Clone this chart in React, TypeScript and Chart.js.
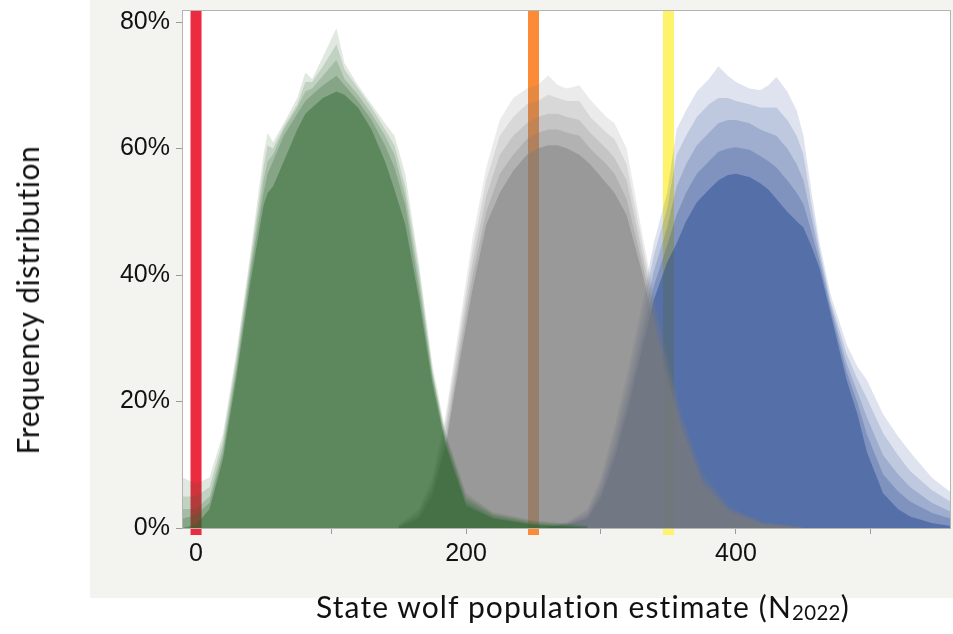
import React, { useEffect, useRef } from 'react';
import { Chart, registerables } from 'chart.js';

Chart.register(...registerables);

// ---- axis ticks ----
const xTickValues = [0, 100, 200, 300, 400, 500];
const xTickLabels = ['0', '', '200', '', '400', ''];
const yTickValues = [0, 20, 40, 60, 80];
const yTickLabels = ['0%', '20%', '40%', '60%', '80%'];

// ---- threshold lines (N) ----
const thresholdValues = [0, 250, 350];

// ---- green distribution (frequency %, layered simulations) ----
const greenN = [-10, 0, 10, 20, 30, 40, 50, 53, 57, 65, 75, 81, 86, 94, 104, 110, 120, 130, 140, 147, 155, 165, 175, 185, 200, 220, 250, 290];
const greenL1 = [8, 7, 8, 15, 28, 43, 59, 62.5, 61, 64, 68, 72, 71, 74.5, 79, 73.5, 70, 67, 64, 62, 56, 42, 26, 15, 5.5, 2.5, 1.2, 0.4];
const greenL2 = [5, 5, 6.5, 14, 27, 42, 57, 60.5, 60, 63.5, 67, 70.5, 70.5, 73, 76.5, 72.5, 69.5, 66.5, 63, 60.5, 54, 41, 25, 14.5, 5, 2.2, 1, 0.3];
const greenL3 = [3, 3, 5, 13, 26, 41, 55, 58, 59, 63, 66.5, 69, 69.5, 71.5, 74, 71, 68.5, 65.5, 62, 59, 52.5, 39.5, 24.5, 14, 4.5, 2, 0.8, 0.2];
const greenL4 = [1.5, 2, 4, 12, 25, 40, 53, 56, 58, 62, 65.5, 67.5, 68.5, 70, 71.5, 70, 67.5, 64.5, 60.5, 57, 51, 38, 24, 13.5, 4, 1.7, 0.6, 0];
const greenL5 = [0, 0.5, 3, 11, 24, 38.5, 51, 53, 54, 58, 63, 65.5, 66.5, 68, 69, 68.5, 66.5, 63, 58, 53.5, 48, 36.5, 23, 13, 3.5, 1.5, 0.5, 0];

// ---- gray distribution ----
const grayN = [150, 165, 175, 185, 195, 205, 215, 225, 235, 245, 253, 261, 268, 275, 284, 292, 304, 310, 319, 331, 340, 350, 360, 375, 395, 420, 450];
const grayL1 = [0.5, 3, 8, 18, 32, 46, 57, 64.5, 68, 69.5, 70, 71.6, 70, 69.5, 70, 67.7, 65, 64, 60, 46, 36, 27, 18, 9, 3.5, 1, 0.2];
const grayL2 = [0.4, 2.6, 7.2, 17, 30.5, 44, 55, 62, 65, 67, 67.5, 68.5, 68, 67.5, 67.5, 65, 62.5, 61.5, 57.5, 44.5, 35, 26, 17.5, 8.5, 3.2, 0.9, 0.2];
const grayL3 = [0.3, 2.2, 6.5, 15.5, 29, 42, 52.5, 59, 62, 64, 65, 65.5, 65.5, 65, 64.5, 62.5, 60, 58.5, 55, 43, 34, 25, 17, 8, 3, 0.8, 0.1];
const grayL4 = [0.2, 1.8, 5.8, 14, 27.5, 40, 50, 56, 59, 61.5, 62.5, 63, 63, 62.5, 62, 60, 57.5, 56, 52, 41.5, 33, 24, 16, 7.5, 2.8, 0.7, 0];
const grayL5 = [0, 1.5, 5, 13, 26, 38, 48, 53, 56.5, 59, 60, 60.5, 60.5, 60, 59, 57.5, 54.5, 53, 49.5, 40, 31.5, 23, 15.5, 7, 2.5, 0.6, 0];

// ---- blue distribution ----
const blueN = [260, 275, 290, 300, 310, 320, 330, 339, 349, 356, 363, 371, 380, 387, 394, 400, 410, 418, 424, 430, 438, 445, 450, 456, 462, 470, 482, 490, 497, 509, 520, 529, 545, 560];
const blueL1 = [0.3, 1, 3, 8, 16, 25, 35, 45, 53, 63, 66, 69, 71, 73, 71.5, 70.5, 69.5, 69.2, 70, 71.3, 69, 66, 62, 53, 45, 37, 29, 25.5, 23.4, 18, 14.5, 12, 8, 5.5];
const blueL2 = [0.2, 0.8, 2.6, 7.2, 15, 23.5, 33.5, 43, 50.5, 59, 62, 65, 67, 68, 68, 67.5, 67, 66.5, 66.5, 66.5, 64.5, 62, 59, 51, 44, 36, 27.5, 23.5, 20.5, 15, 11.5, 9, 6, 4];
const blueL3 = [0.15, 0.7, 2.2, 6.5, 13.5, 22, 31.5, 40.5, 47.5, 54, 57.5, 60.5, 62.5, 64, 64.5, 64.5, 64, 63, 62.5, 62, 60, 57.5, 55, 49, 43, 35.5, 26, 21.5, 17.5, 11.5, 8.5, 6.5, 4, 2.5];
const blueL4 = [0.1, 0.6, 1.8, 5.7, 12.2, 20.5, 29.7, 38.2, 44.7, 49.5, 53, 56, 58, 59.5, 60, 60.2, 59.8, 58.8, 58, 57, 55, 53, 51.2, 46.8, 42, 34.8, 24.7, 19.8, 14.8, 8.5, 5.8, 4.2, 2.4, 1.4];
const blueL5 = [0, 0.5, 1.5, 5, 11, 19, 28, 36, 42, 45, 48.5, 51.5, 53.5, 55, 55.8, 56, 55.5, 54.5, 53.5, 52, 50, 48.5, 47.5, 44.5, 41, 34, 23.4, 18, 12, 5.5, 3, 1.8, 0.8, 0.3];

// ---- styles ----
const layerAlphas = [0.15, 0.17, 0.2, 0.25, 0.45];
const greenRGB = '45,102,46';
const grayRGB = '124,124,124';
const blueRGB = '35,70,145';
const thresholdColors = ['#ec2b41', '#fb8b37', '#fff36a'];

function layerSets(xs: number[], layers: number[][], rgb: string) {
  return layers.map((ys, i) => ({
    type: 'line' as const,
    data: xs.map((x, j) => ({ x, y: ys[j] })),
    fill: 'origin',
    backgroundColor: `rgba(${rgb},${layerAlphas[i]})`,
    borderWidth: 0,
    borderColor: 'rgba(0,0,0,0)',
    pointRadius: 0,
    tension: 0,
  }));
}

const framePlugin = {
  id: 'frame',
  beforeDraw(chart: any) {
    const { ctx, chartArea: a } = chart;
    ctx.save();
    ctx.fillStyle = '#ffffff';
    ctx.fillRect(a.left, a.top, a.right - a.left, a.bottom - a.top);
    ctx.restore();
  },
  beforeDatasetsDraw(chart: any) {
    const { ctx, chartArea: a, scales } = chart;
    ctx.save();
    thresholdValues.forEach((v, i) => {
      const px = scales.x.getPixelForValue(v);
      ctx.fillStyle = thresholdColors[i];
      ctx.fillRect(px - 5.5, a.top, 11, a.bottom + 7 - a.top);
    });
    ctx.restore();
  },
  afterDatasetsDraw(chart: any) {
    const { ctx, chartArea: a } = chart;
    ctx.save();
    ctx.strokeStyle = '#b4b4b4';
    ctx.lineWidth = 1;
    ctx.strokeRect(a.left + 0.5, a.top + 0.5, a.right - a.left - 1, a.bottom - a.top);
    ctx.restore();
  },
};

export default function App() {
  const ref = useRef<HTMLCanvasElement>(null);

  useEffect(() => {
    document.body.style.margin = '0';
    const canvas = ref.current;
    if (!canvas) return;
    const datasets = [
      ...layerSets(greenN, [greenL1, greenL2, greenL3, greenL4, greenL5], greenRGB),
      ...layerSets(grayN, [grayL1, grayL2, grayL3, grayL4, grayL5], grayRGB),
      ...layerSets(blueN, [blueL1, blueL2, blueL3, blueL4, blueL5], blueRGB),
    ];
    const chart = new Chart(canvas, {
      type: 'line',
      data: { datasets: datasets as any },
      options: {
        animation: false,
        responsive: false,
        maintainAspectRatio: false,
        layout: { padding: { left: 0, top: 10, right: 2, bottom: 0 } },
        plugins: { legend: { display: false }, tooltip: { enabled: false } },
        elements: { line: { borderWidth: 0 } },
        scales: {
          x: {
            type: 'linear',
            min: -10.4,
            max: 559.3,
            afterFit: (s: any) => { s.height = 106; s.paddingLeft = 0; s.paddingRight = 0; },
            afterBuildTicks: (s: any) => { s.ticks = xTickValues.map((v) => ({ value: v })); },
            grid: { drawOnChartArea: false, drawTicks: true, tickLength: 6, color: '#9a9a9a' },
            border: { display: false },
            ticks: {
              autoSkip: false,
              maxRotation: 0,
              padding: 5,
              color: '#111',
              font: { family: 'Liberation Sans, Arial, sans-serif', size: 25 },
              callback: (v: any) => xTickLabels[xTickValues.indexOf(Number(v))] ?? '',
            },
          },
          y: {
            type: 'linear',
            min: 0,
            max: 81.9,
            afterFit: (s: any) => { s.width = 182; s.paddingTop = 0; s.paddingBottom = 0; },
            afterBuildTicks: (s: any) => { s.ticks = yTickValues.map((v) => ({ value: v })); },
            grid: { drawOnChartArea: false, drawTicks: true, tickLength: 6, color: '#9a9a9a' },
            border: { display: false },
            ticks: {
              padding: 6,
              color: '#111',
              font: { family: 'Liberation Sans, Arial, sans-serif', size: 25 },
              callback: (v: any) => yTickLabels[yTickValues.indexOf(Number(v))] ?? '',
            },
          },
        },
      },
      plugins: [framePlugin],
    } as any);
    return () => chart.destroy();
  }, []);

  return (
    <div style={{ position: 'relative', width: 953, height: 634, background: '#ffffff', overflow: 'hidden' }}>
      <div style={{ position: 'absolute', left: 90, top: 0, width: 863, height: 598, background: '#f3f3ef' }} />
      <canvas ref={ref} width={953} height={634} style={{ position: 'absolute', left: 0, top: 0, width: 953, height: 634 }} />
      <div
        style={{
          position: 'absolute', left: 27, top: 300, transform: 'translate(-50%, -50%) rotate(-90deg)',
          fontFamily: 'Lato, sans-serif', fontSize: 30, letterSpacing: 0.6, lineHeight: 1.2, whiteSpace: 'nowrap', color: '#111',
        }}
      >
        Frequency distribution
      </div>
      <div
        style={{
          position: 'absolute', left: 583, top: 588, transform: 'translateX(-50%)',
          fontFamily: 'Lato, sans-serif', fontSize: 30, letterSpacing: 1.1, lineHeight: 1.2, whiteSpace: 'nowrap', color: '#111',
        }}
      >
        State wolf population estimate (N<span style={{ fontSize: '0.68em', verticalAlign: '-0.12em', letterSpacing: 0.4 }}>2022</span>)
      </div>
    </div>
  );
}
